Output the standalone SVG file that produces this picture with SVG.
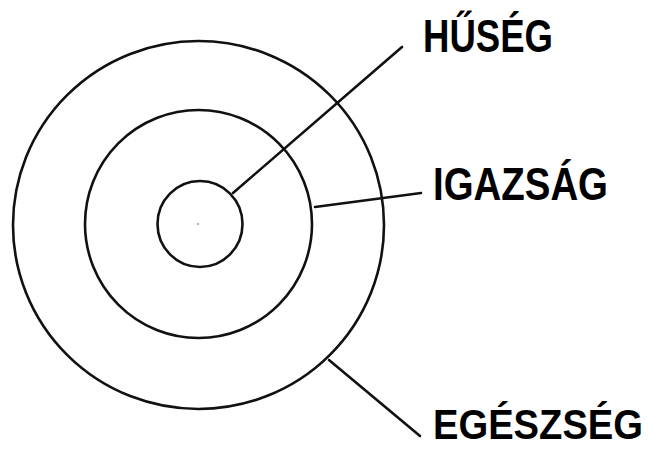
<svg xmlns="http://www.w3.org/2000/svg" width="651" height="452" viewBox="0 0 651 452">
<style>
.ring{fill:none;stroke:#111;stroke-width:2.6}
.conn{stroke:#111;stroke-width:2.6;fill:none;stroke-linecap:round}
.lbl{font-family:"Liberation Sans",Arial,sans-serif;font-weight:bold;font-size:46px;fill:#000}
</style>
<rect width="651" height="452" fill="#fff"/>
<g id="outer"><ellipse class="ring" cx="198.5" cy="225" rx="185.5" ry="184"/></g>
<g id="middle"><ellipse class="ring" cx="198.5" cy="224" rx="113.5" ry="114"/></g>
<g id="inner"><ellipse class="ring" cx="200" cy="224" rx="42.5" ry="43"/><circle cx="198" cy="224" r="0.8" fill="#555"/></g>
<g id="connectors">
<line class="conn" x1="233" y1="193" x2="402" y2="47"/>
<line class="conn" x1="315" y1="207" x2="421" y2="193"/>
<line class="conn" x1="329" y1="360" x2="420" y2="436"/>
</g>
<g id="label-huseg"><text class="lbl" x="423" y="52" textLength="130" lengthAdjust="spacingAndGlyphs">HŰSÉG</text></g>
<g id="label-igazsag"><text class="lbl" x="433" y="200" textLength="175" lengthAdjust="spacingAndGlyphs">IGAZSÁG</text></g>
<g id="label-egeszseg"><text class="lbl" x="433" y="439" style="font-size:42px" textLength="210" lengthAdjust="spacingAndGlyphs">EGÉSZSÉG</text></g>
</svg>
